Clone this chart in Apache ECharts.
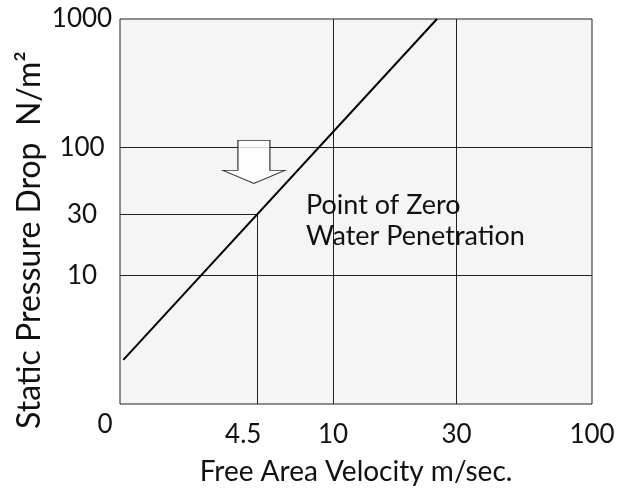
<!DOCTYPE html>
<html>
<head>
    <meta charset="utf-8">
    <script src="https://cdn.jsdelivr.net/npm/echarts@6/dist/echarts.min.js"></script>
    <style>
        html, body { margin: 0; padding: 0; background: #fff; }
    </style>
</head>
<body>
<div id="main" style="width: 635px;height:489px;"></div>

<script type="text/javascript">
    // values (log-log)
    var velocity = [1.55, 25.2];        // m/sec, ends of the drawn line
    var pressure = [2.21, 1000];        // N/m2
    var zeroPoint = [5.1, 30];          // point of zero water penetration
    var arrowAt = [4.95, 77];
    var xTicks = [4.5, 10, 30, 100];
    var yTicks = [10, 30, 100, 1000];
    var xGrid = [10, 30];
    var yGrid = [10, 100];
    var xMin = 1.505, xMax = 100, yMin = 1, yMax = 1000;

    var lineData = velocity.map(function (v, i) { return [v, pressure[i]]; });

    var gridLines = [];
    xGrid.forEach(function (v) { gridLines.push({ xAxis: v }); });
    yGrid.forEach(function (v) { gridLines.push({ yAxis: v }); });
    gridLines.push([{ coord: [xMin, zeroPoint[1]] }, { coord: [zeroPoint[0], zeroPoint[1]] }]);
    gridLines.push([{ coord: [zeroPoint[0], zeroPoint[1]] }, { coord: [zeroPoint[0], yMin] }]);

    function fmt(v) { return String(Math.round(v * 10) / 10); }

    var myChart = echarts.init(document.getElementById('main'));
    myChart.setOption({
        animation: false,
        textStyle: { fontFamily: 'Lato' },
        grid: {
            left: 120, right: 43, top: 19, bottom: 85,
            outerBoundsMode: 'none',
            containLabel: false,
            show: true,
            backgroundColor: '#f5f5f5',
            borderColor: '#222',
            borderWidth: 1
        },
        xAxis: {
            type: 'log',
            logBase: 10,
            min: xMin,
            max: xMax,
            name: 'Free Area Velocity m/sec.',
            nameLocation: 'middle',
            nameGap: 54,
            nameTextStyle: { fontSize: 28, color: '#111', fontFamily: 'Lato' },
            axisLine: { show: false },
            axisTick: { show: false },
            splitLine: { show: false },
            axisLabel: {
                customValues: xTicks,
                formatter: fmt,
                fontSize: 26,
                color: '#111',
                margin: 18
            }
        },
        yAxis: {
            type: 'log',
            logBase: 10,
            min: yMin,
            max: yMax,
            axisLine: { show: false },
            axisTick: { show: false },
            splitLine: { show: false },
            axisLabel: {
                customValues: yTicks,
                formatter: fmt,
                fontSize: 26,
                color: '#111',
                align: 'center',
                margin: 38,
                padding: [4, 0, 0, 0]
            }
        },
        graphic: [
            {
                type: 'text',
                x: 105, y: 425,
                style: { text: '0', font: '26px Lato', fill: '#111', align: 'center', verticalAlign: 'middle' }
            },
            {
                type: 'text',
                x: 30, y: 240,
                rotation: Math.PI / 2,
                style: { text: 'Static Pressure Drop  N/m²', font: '32px Lato', fill: '#111', align: 'center', verticalAlign: 'middle' }
            },
            {
                type: 'text',
                x: 306, y: 190,
                z: 10,
                style: { text: 'Point of Zero\nWater Penetration', font: '27px Lato', lineHeight: 31, fill: '#111' }
            }
        ],
        series: [
            {
                type: 'line',
                data: lineData,
                symbol: 'none',
                lineStyle: { color: '#000', width: 2 },
                z: 3,
                markLine: {
                    silent: true,
                    symbol: 'none',
                    label: { show: false },
                    lineStyle: { color: '#222', width: 1, type: 'solid' },
                    z: 2,
                    data: gridLines
                }
            },
            {
                type: 'scatter',
                data: [arrowAt],
                symbol: 'path://M15,0 L47,0 L47,30 L62,30 L31,43 L0,30 L15,30 Z',
                symbolSize: [62, 43],
                itemStyle: { color: '#fff', borderColor: '#000', borderWidth: 1 },
                z: 5,
                silent: true
            }
        ]
    });
</script>
</body>
</html>
